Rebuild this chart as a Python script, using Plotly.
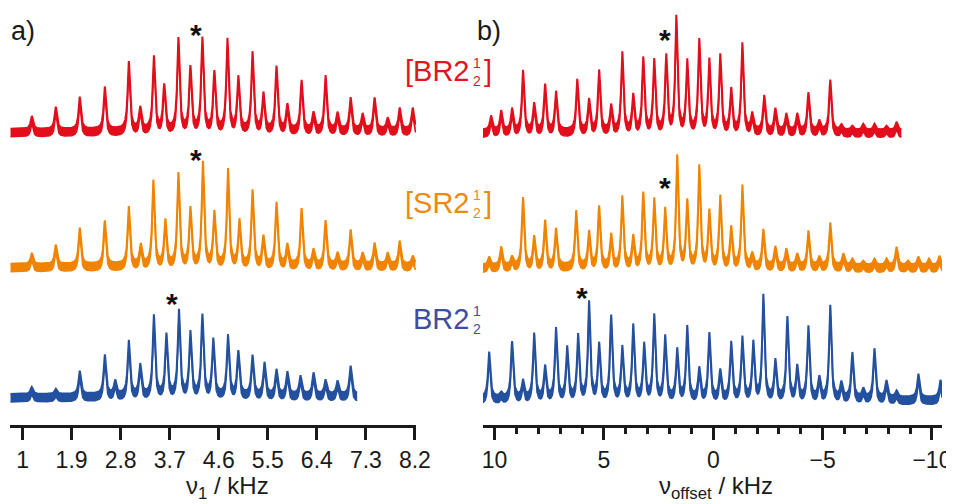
import numpy as np
import plotly.graph_objects as go

W, H = 954, 504
SHIFT = 8        # page body margin: figure is drawn 8 px right/down of the window corner
AXIS_Y = 425     # screen row of the x axis lines
PLOT_H = AXIS_Y - SHIFT

# ---------------- data ----------------
a_tickvals = [1, 1.9, 2.8, 3.7, 4.6, 5.5, 6.4, 7.3, 8.2]
a_ticktext = ["1", "1.9", "2.8", "3.7", "4.6", "5.5", "6.4", "7.3", "8.2"]
b_tickvals = [10, 5, 0, -5, -10]
b_ticktext = ["10", "5", "0", "\u22125", "\u221210"]

# panel a) : nu_1 / kHz  (peak position, intensity)
a_red_pos = [1.17, 1.61, 2.05, 2.51, 2.95, 3.16, 3.41, 3.60, 3.86, 4.08, 4.30, 4.52, 4.76, 4.96,
             5.22, 5.42, 5.66, 5.86, 6.12, 6.34, 6.56, 6.78, 7.02, 7.24, 7.46, 7.70, 7.92, 8.16]
a_red_int = [17, 26, 36, 46, 71, 25, 76, 47, 94, 65, 94, 60, 93, 55,
             80, 39, 66, 28, 52, 20, 57, 20, 35, 19, 35, 15, 25, 25]
a_red_span = [0.78, 8.21]

a_orange_pos = [1.17, 1.61, 2.05, 2.51, 2.95, 3.17, 3.40, 3.62, 3.86, 4.08, 4.31, 4.52, 4.77, 4.98,
                5.22, 5.42, 5.66, 5.86, 6.12, 6.34, 6.56, 6.78, 7.02, 7.24, 7.46, 7.70, 7.92, 8.16]
a_orange_int = [15, 23, 40, 47, 61, 23, 87, 47, 94, 59, 105, 55, 98, 47,
                77, 31, 65, 23, 59, 18, 47, 15, 38, 15, 25, 15, 27, 12]
a_orange_span = [0.78, 8.21]

a_blue_pos = [1.17, 1.61, 2.05, 2.51, 2.70, 2.95, 3.16, 3.41, 3.64, 3.87, 4.08, 4.30, 4.50, 4.77,
              4.96, 5.22, 5.44, 5.66, 5.86, 6.10, 6.34, 6.56, 6.78, 7.02]
a_blue_int = [11, 9, 27, 43, 17, 57, 33, 82, 63, 87, 65, 82, 58, 62,
              46, 42, 35, 28, 26, 22, 25, 18, 17, 32]
a_blue_span = [0.78, 7.14]

# panel b) : nu_offset / kHz
b_red_pos = [10.16, 9.70, 9.20, 8.70, 8.19, 7.69, 7.19, 6.22, 5.68, 5.22, 4.67, 4.16, 3.66, 3.20,
             2.70, 2.15, 1.69, 1.19, 0.64, 0.18, -0.32, -0.82, -1.33, -1.78, -2.33, -2.84, -3.34,
             -3.84, -4.35, -4.85, -5.35, -5.86, -6.36, -6.86, -7.37, -7.92, -8.38]
b_red_int = [18, 23, 25, 63, 30, 49, 42, 54, 34, 63, 28, 81, 38, 75,
             73, 77, 116, 72, 93, 73, 78, 44, 90, 20, 38, 25, 20,
             20, 41, 13, 54, 9, 8, 10, 10, 8, 12]
b_red_span = [10.53, -8.60]

b_orange_pos = [10.25, 9.70, 9.20, 8.70, 8.19, 7.69, 7.19, 6.27, 5.68, 5.22, 4.67, 4.16, 3.66, 3.20,
                2.70, 2.20, 1.65, 1.19, 0.64, 0.18, -0.32, -0.82, -1.33, -1.78, -2.29, -2.84, -3.34,
                -3.84, -4.35, -4.85, -5.35, -5.95, -6.36, -6.86, -7.37, -7.92, -8.38, -8.90, -9.38,
                -9.86, -10.34]
b_orange_int = [12, 22, 12, 71, 32, 48, 40, 58, 37, 62, 34, 72, 32, 75,
                69, 59, 112, 67, 102, 57, 72, 41, 83, 15, 39, 22, 20,
                15, 38, 12, 46, 15, 10, 8, 10, 10, 22, 8, 12,
                10, 13]
b_orange_span = [10.53, -10.46]

b_blue_pos = [10.25, 9.70, 9.20, 8.70, 8.19, 7.69, 7.19, 6.68, 6.18, 5.68, 5.22, 4.67, 4.16, 3.66,
              3.16, 2.70, 2.20, 1.65, 1.19, 0.64, 0.18, -0.32, -0.82, -1.33, -1.83, -2.29, -2.84,
              -3.39, -3.84, -4.35, -4.85, -5.35, -5.86, -6.36, -6.86, -7.37, -7.92, -8.38, -9.38, -10.39]
b_blue_int = [49, 8, 59, 20, 67, 34, 72, 53, 65, 98, 56, 84, 53, 75,
              56, 85, 64, 51, 74, 32, 67, 30, 58, 63, 58, 105, 40,
              83, 34, 74, 23, 95, 18, 48, 12, 52, 20, 10, 27, 21]
b_blue_span = [10.53, -10.46]

labels = ["[BR2", "[SR2", "BR2"]
label_sup = ["1", "1", "1"]
label_sub = ["2", "2", "2"]

# ---------------- styles ----------------
RED, ORANGE, BLUE = "#E30E1B", "#F08400", "#23509F"
RED_T, ORANGE_T, BLUE_T = "#E3141E", "#EC8A12", "#3D4EA0"
FONT = "Liberation Sans, Arial, sans-serif"
INK = "#1a1a1a"
BAND = 4  # half thickness of the drawn trace band (px)


def lineshape(pos, inten, span, hwhm, n=5000):
    x = np.linspace(span[0], span[1], n)
    y = np.zeros_like(x)
    for p, h in zip(pos, inten):
        y += max(h - BAND, 0) / (1.0 + ((x - p) / hwhm) ** 2)
    return x, y


fig = go.Figure()


def add_spec(pos, inten, span, hwhm, offset, color, xa, ya):
    x, y = lineshape(pos, inten, span, hwhm)
    fig.add_trace(go.Scatter(x=x, y=offset + y - BAND, mode="lines", xaxis=xa, yaxis=ya,
                             line=dict(color=color, width=1.5), hoverinfo="skip", showlegend=False))
    fig.add_trace(go.Scatter(x=x, y=offset + y + BAND, mode="lines", xaxis=xa, yaxis=ya,
                             fill="tonexty", fillcolor=color,
                             line=dict(color=color, width=2), hoverinfo="skip", showlegend=False))


HW_A = 0.025
HW_B = 0.06
# offsets: baseline height above the axis line, in screen px
add_spec(a_red_pos, a_red_int, a_red_span, HW_A, 292, RED, "x", "y")
add_spec(a_orange_pos, a_orange_int, a_orange_span, HW_A, 157, ORANGE, "x", "y")
add_spec(a_blue_pos, a_blue_int, a_blue_span, HW_A, 27, BLUE, "x", "y")
add_spec(b_red_pos, b_red_int, b_red_span, HW_B, 291, RED, "x2", "y2")
add_spec(b_orange_pos, b_orange_int, b_orange_span, HW_B, 156, ORANGE, "x2", "y2")
add_spec(b_blue_pos, b_blue_int, b_blue_span, HW_B, 24, BLUE, "x2", "y2")


def px(x):
    return (x - SHIFT) / W


def py(y):
    return 1 - (y - SHIFT) / PLOT_H


ann = []


def text(x, y, s, size, color=INK, xanchor="center", yanchor="middle"):
    ann.append(dict(x=px(x), y=py(y), xref="paper", yref="paper", text=s, showarrow=False,
                    xanchor=xanchor, yanchor=yanchor,
                    font=dict(family=FONT, size=size, color=color)))


text(23, 31, "a)", 27)
text(489, 31, "b)", 27)
text(227, 505, "\u03bd<sub>1</sub> / kHz", 24, yanchor="bottom")
text(716, 505, "\u03bd<sub>offset</sub> / kHz", 24, yanchor="bottom")

# spectrum labels
lab_y = [71, 203, 319]
lab_col = [RED_T, ORANGE_T, BLUE_T]
for i in range(3):
    text(471, lab_y[i], labels[i], 29, lab_col[i], xanchor="right")
    text(477, lab_y[i] + 1, label_sup[i] + "<br>" + label_sub[i], 14, lab_col[i])
    if labels[i].startswith("["):
        text(482, lab_y[i], "]", 29, lab_col[i], xanchor="left")

# asterisks
star_xy = [(196, 32), (196, 158), (172, 301), (665, 38), (665, 185), (582, 295)]
for (sx, sy) in star_xy:
    text(sx, sy + 2, "<b>*</b>", 30, "#111111")

axis_common = dict(showline=True, linewidth=3, linecolor=INK, ticks="outside",
                   ticklen=12, tickwidth=3, tickcolor=INK, showgrid=False, zeroline=False,
                   automargin=False,
                   tickfont=dict(family=FONT, size=23, color=INK), mirror=False)

fig.update_layout(
    width=W, height=H, margin=dict(l=0, r=0, t=0, b=H - PLOT_H),
    paper_bgcolor="white", plot_bgcolor="white", showlegend=False,
    xaxis=dict(domain=[px(10), px(416)], range=[0.77, 8.22], tickmode="array",
               tickvals=a_tickvals, ticktext=a_ticktext, anchor="y", **axis_common),
    xaxis2=dict(domain=[px(483), px(942)], range=[10.53, -10.46], tickmode="array",
                tickvals=b_tickvals, ticktext=b_ticktext, anchor="y2",
                minor=dict(dtick=1, ticks="outside", ticklen=6, tickwidth=3, tickcolor=INK,
                           showgrid=False),
                **axis_common),
    yaxis=dict(range=[0, PLOT_H], visible=False, domain=[0, 1], anchor="x"),
    yaxis2=dict(range=[0, PLOT_H], visible=False, domain=[0, 1], anchor="x2"),
    annotations=ann,
)

fig.write_html("out.html")
